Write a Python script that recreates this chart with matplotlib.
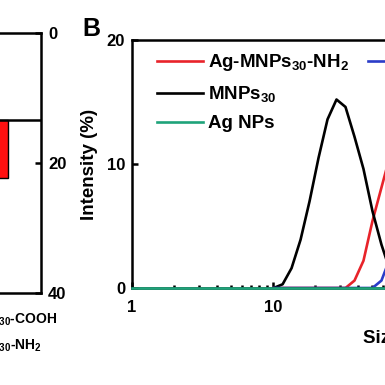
import numpy as np
import matplotlib
matplotlib.use("Agg")
import matplotlib.pyplot as plt
from matplotlib.ticker import FuncFormatter
from matplotlib.lines import Line2D

plt.rcParams['font.family'] = ['Liberation Sans', 'DejaVu Sans']
plt.rcParams['font.weight'] = 'bold'
plt.rcParams['axes.labelweight'] = 'bold'
plt.rcParams['mathtext.fontset'] = 'custom'
plt.rcParams['mathtext.rm'] = 'Liberation Sans:bold'
plt.rcParams['mathtext.default'] = 'rm'

# panel A (only its right edge is visible)
a_base = 13.4
a_red = 22.3
a_labels = ['MNPs$_{30}$-COOH', 'Ag-MNPs$_{30}$-NH$_2$']

# panel B: DLS size distributions (size in nm, intensity in %)
size_nm = [10.1, 11.7, 13.54, 15.69, 18.17, 21.04, 24.36, 28.21, 32.67, 37.84,
           43.82, 50.75, 58.77, 68.06, 78.82, 91.28, 105.7, 122.4, 141.8, 164.2,
           190.1, 220.2, 255.0]
mnps = [0, 0.3, 1.6, 3.9, 7.0, 10.5, 13.6, 15.2, 14.6, 12.2,
        9.6, 6.2, 3.5, 1.3, 0, 0, 0, 0, 0, 0, 0, 0, 0]
ag_mnps_nh2 = [0, 0, 0, 0, 0, 0, 0, 0, 0, 0.6,
               2.2, 5.4, 8.1, 10.8, 12.5, 12.3, 10.5, 7.5, 4.5, 2.0, 0.5, 0, 0]
ag_mnps_cooh = [0, 0, 0, 0, 0, 0, 0, 0, 0, 0,
                0, 0, 0.6, 2.5, 5.0, 8.0, 10.5, 11.5, 10.5, 8.0, 5.0, 2.0, 0]
ag_size = [1, 10000]
ag_nps = [0, 0]

red = '#e8232a'
blue = '#2a3cc8'
green = '#1ea37a'

fig = plt.figure(figsize=(3.85, 3.85), dpi=100)

# ---- panel A
axa = fig.add_axes([-159/385, 92/385, 200/385, 260/385])
axa.axhline(a_base, color='black', lw=1.8)
axa.bar([0], [a_red - a_base], bottom=a_base, width=0.34, color='#ff1010',
        edgecolor='black', lw=1)
axa.set_xlim(-1.5, 0.5)
axa.set_ylim(40, 0)
axa.set_yticks([0, 20, 40])
axa.yaxis.tick_right()
axa.tick_params(axis='y', direction='in', length=4, width=1.8, labelsize=12, pad=5)
axa.set_xticks([])
for s in axa.spines.values():
    s.set_linewidth(1.8)
fig.text(57/385, 1 - 320/385, a_labels[0], ha='right', va='center', fontsize=10)
fig.text(42/385, 1 - 345/385, a_labels[1], ha='right', va='center', fontsize=10)

# ---- panel B
ax = fig.add_axes([132/385, 97/385, 564/385, 248/385])
l1, = ax.plot(size_nm, ag_mnps_nh2, color=red, lw=1.9)
l2, = ax.plot(size_nm, mnps, color='black', lw=1.9)
l3, = ax.plot(ag_size, ag_nps, color=green, lw=1.9, zorder=5, clip_on=False)
l4, = ax.plot(size_nm, ag_mnps_cooh, color=blue, lw=1.9)
ax.set_xscale('log')
ax.set_xlim(1, 10000)
ax.set_ylim(0, 20)
ax.set_yticks([0, 10, 20])
ax.xaxis.set_major_formatter(FuncFormatter(lambda v, p: f'{v:g}'))
ax.tick_params(which='both', direction='in', width=1.8, labelsize=12)
ax.tick_params(which='major', length=4, pad=8.5)
ax.tick_params(which='minor', length=2.5)
ax.tick_params(axis='y', pad=5)
for s in ax.spines.values():
    s.set_linewidth(1.8)
ax.set_ylabel('Intensity (%)', fontsize=13.5, labelpad=6)
ax.set_xlabel('Size (nm)', fontsize=13.5)
ax.xaxis.set_label_coords(0.484, -0.17)
blank = Line2D([], [], color='none')
ax.legend([l1, l2, l3, l4, blank, blank],
          ['Ag-MNPs$_{30}$-NH$_2$', 'MNPs$_{30}$', 'Ag NPs',
           'Ag-MNPs$_{30}$-COOH', '', ''], ncol=2,
          loc='upper left', bbox_to_anchor=(25/564, 0.95), frameon=False,
          fontsize=13.5, handlelength=2.45, handletextpad=0.27,
          columnspacing=1.0, labelspacing=0.58, borderpad=0, borderaxespad=0)

fig.text(82/385, 1 - 29/385, 'B', fontsize=18, fontweight='bold', va='center')

fig.savefig('out.png', dpi=100)
